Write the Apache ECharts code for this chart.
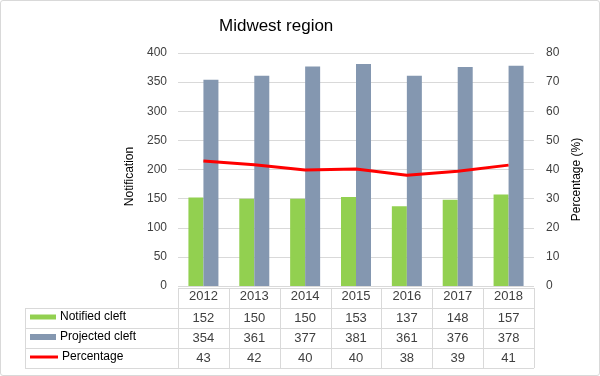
<!DOCTYPE html>
<html>
<head>
<meta charset="utf-8">
<script src="https://cdn.jsdelivr.net/npm/echarts@6/dist/echarts.min.js"></script>
<style>
  html, body { margin: 0; padding: 0; background: #fff; }
  #chart { width: 600px; height: 376px; box-sizing: border-box; border: 1px solid #d9d9d9; border-radius: 3px; }
</style>
</head>
<body>
<div id="chart"></div>
<script>
// data
const years = ['2012', '2013', '2014', '2015', '2016', '2017', '2018']
const notified = [152, 150, 150, 153, 137, 148, 157]
const projected = [354, 361, 377, 381, 361, 376, 378]
const percentage = [42.9, 41.6, 39.8, 40.2, 38.0, 39.4, 41.5]
const percentLabels = [43, 42, 40, 40, 38, 39, 41]

const seriesNames = ['Notified cleft', 'Projected cleft', 'Percentage']
const textColor = '#404040'
const font = 'Liberation Sans, Arial, sans-serif'

const myChart = echarts.init(document.getElementById('chart'))

function legendRow(name, top, iconH, iconW) {
  return {
    left: 29, top: top, padding: 0, itemWidth: iconW, itemHeight: iconH, itemGap: 0,
    data: [{ name: name, icon: 'rect' }],
    textStyle: { fontSize: 12, color: '#000', fontFamily: font, padding: [0, 0, 3, -1] }
  }
}

let option = {
  animation: false,
  textStyle: { fontFamily: font },
  title: {
    text: 'Midwest region',
    left: 218,
    top: 17,
    padding: 0,
    textStyle: { fontSize: 17, fontWeight: 'normal', color: '#000', fontFamily: font }
  },
  legend: [
    legendRow(seriesNames[0], 310, 5, 26),
    legendRow(seriesNames[1], 330, 6, 26),
    legendRow(seriesNames[2], 350, 3, 28)
  ],
  grid: { left: 177, right: 65, top: 52, bottom: 89 },
  xAxis: {
    type: 'category',
    data: years,
    axisLine: { show: false },
    axisTick: { show: false },
    axisLabel: { color: textColor, fontSize: 13, margin: 4 }
  },
  yAxis: [
    {
      type: 'value',
      min: 0, max: 400, interval: 50,
      name: 'Notification',
      nameLocation: 'middle',
      nameGap: 35,
      nameTextStyle: { color: '#000', fontSize: 12, padding: [0, 14, 0, 0] },
      axisLine: { show: false },
      axisTick: { show: false },
      axisLabel: { color: textColor, fontSize: 12, margin: 11 },
      splitLine: { lineStyle: { color: '#d9d9d9' } }
    },
    {
      type: 'value',
      min: 0, max: 80, interval: 10,
      name: 'Percentage (%)',
      nameLocation: 'middle',
      nameGap: 32,
      nameTextStyle: { color: '#000', fontSize: 12, padding: [0, 20, 0, 0] },
      axisLine: { show: false },
      axisTick: { show: false },
      axisLabel: { color: textColor, fontSize: 12, margin: 12 },
      splitLine: { show: false }
    }
  ],
  series: [
    {
      name: seriesNames[0], type: 'bar', data: notified,
      barWidth: 15, barGap: '0%',
      itemStyle: { color: '#92d050' }
    },
    {
      name: seriesNames[1], type: 'bar', data: projected,
      barWidth: 15,
      itemStyle: { color: '#8497b0' }
    },
    {
      name: seriesNames[2], type: 'line', data: percentage, yAxisIndex: 1,
      symbol: 'none',
      itemStyle: { color: '#ff0000' },
      lineStyle: { color: '#ff0000', width: 3 }
    }
  ]
}
myChart.setOption(option)

// data table under the plot, placed from the category axis
function drawTable() {
  const c0 = myChart.convertToPixel({ xAxisIndex: 0 }, 0)
  const c1 = myChart.convertToPixel({ xAxisIndex: 0 }, 1)
  const band = c1 - c0
  const left = c0 - band / 2
  const right = left + band * years.length
  const tableLeft = 24
  const rowTop = [287, 307, 327, 347, 367]
  const lineStyle = { stroke: '#d9d9d9', lineWidth: 1 }
  const els = []

  els.push({ type: 'line', shape: { x1: left, y1: rowTop[0] + 0.5, x2: right, y2: rowTop[0] + 0.5 }, style: lineStyle })
  for (let i = 1; i < rowTop.length; i++) {
    els.push({ type: 'line', shape: { x1: tableLeft, y1: rowTop[i] + 0.5, x2: right, y2: rowTop[i] + 0.5 }, style: lineStyle })
  }
  for (let i = 0; i <= years.length; i++) {
    const x = Math.round(left + band * i) + 0.5
    els.push({ type: 'line', shape: { x1: x, y1: rowTop[0], x2: x, y2: rowTop[4] }, style: lineStyle })
  }
  els.push({ type: 'line', shape: { x1: tableLeft + 0.5, y1: rowTop[1], x2: tableLeft + 0.5, y2: rowTop[4] }, style: lineStyle })

  const rows = [notified, projected, percentLabels]
  rows.forEach((row, r) => {
    const cy = (rowTop[r + 1] + rowTop[r + 2]) / 2
    row.forEach((v, i) => {
      els.push({
        type: 'text',
        x: myChart.convertToPixel({ xAxisIndex: 0 }, i),
        y: cy,
        style: {
          text: String(v), fill: textColor, fontSize: 13, fontFamily: font,
          align: 'center', verticalAlign: 'middle'
        }
      })
    })
  })
  myChart.setOption({ graphic: els })
}
drawTable()

window.addEventListener('resize', function() {
  myChart.resize()
})
</script>
</body>
</html>
